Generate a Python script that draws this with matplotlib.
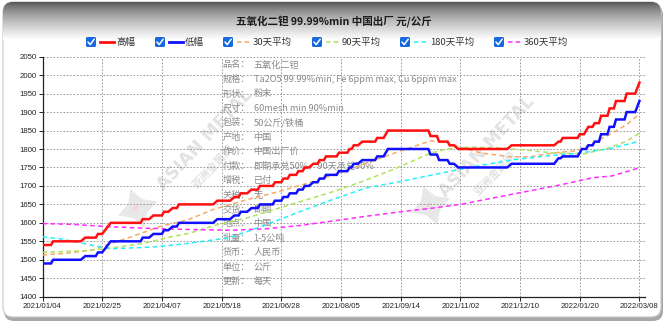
import numpy as np
import matplotlib.pyplot as plt
from matplotlib.patches import FancyBboxPatch

plt.rcParams['font.family'] = ['Noto Sans CJK SC', 'DejaVu Sans']

W, H = 667, 326

# ── data ──────────────────────────────────────────────────────
# x is a trading-day index, one tick label every 28 points
tick_labels = ['2021/01/04', '2021/02/25', '2021/04/07', '2021/05/18', '2021/06/28',
               '2021/08/05', '2021/09/14', '2021/11/02', '2021/12/10', '2022/01/20',
               '2022/03/08']
tick_step = 28

# 高幅 / 低幅 price levels: first index, last index, price
high_x0 = [0, 5, 20, 26, 32, 47, 52, 57, 61, 64, 82, 90, 93, 98, 102, 109, 113, 116, 120, 123,
           127, 130, 133, 139, 144, 146, 150, 157, 162, 182, 186, 191, 195, 220, 242, 244, 252,
           256, 259, 262, 266, 269, 274, 280]
high_x1 = [4, 18, 25, 28, 46, 50, 56, 59, 63, 80, 88, 92, 96, 101, 108, 112, 115, 119, 122, 125,
           129, 132, 138, 143, 145, 148, 156, 160, 181, 185, 190, 193, 218, 240, 243, 251, 254,
           258, 261, 265, 268, 273, 278, 280]
high_v = [1540, 1550, 1560, 1570, 1600, 1610, 1620, 1630, 1640, 1650, 1660, 1670, 1680, 1690,
          1700, 1710, 1720, 1730, 1740, 1750, 1760, 1770, 1780, 1790, 1800, 1810, 1820, 1830,
          1850, 1835, 1820, 1810, 1800, 1810, 1820, 1830, 1840, 1860, 1870, 1890, 1910, 1930,
          1950, 1980]

low_x0 = [0, 5, 20, 26, 32, 47, 52, 57, 61, 64, 82, 90, 93, 98, 102, 109, 113, 116, 120, 123,
          127, 130, 133, 139, 144, 146, 150, 157, 162, 182, 186, 191, 195, 220, 242, 244, 253,
          256, 259, 262, 266, 269, 274, 280]
low_x1 = [4, 18, 25, 28, 46, 50, 56, 59, 63, 80, 88, 92, 96, 101, 108, 112, 115, 119, 122, 125,
          129, 132, 138, 143, 145, 148, 156, 160, 181, 185, 190, 193, 218, 240, 243, 251, 255,
          258, 261, 265, 268, 273, 278, 280]
low_v = [1490, 1500, 1510, 1520, 1550, 1560, 1570, 1580, 1590, 1600, 1610, 1620, 1630, 1640,
         1650, 1660, 1670, 1680, 1690, 1700, 1710, 1720, 1730, 1740, 1750, 1760, 1770, 1780,
         1800, 1785, 1770, 1760, 1750, 1760, 1775, 1780, 1800, 1810, 1820, 1840, 1860, 1880,
         1900, 1930]

avg30_x = [0, 12, 24, 30, 42, 55, 68, 80, 96, 111, 127, 136, 152, 168, 182, 189, 196, 205,
           219, 229, 239, 251, 258, 266, 274, 280]
avg30_v = [1513, 1518, 1527, 1540, 1563, 1590, 1608, 1636, 1663, 1685, 1712, 1729, 1762, 1795,
           1822, 1820, 1805, 1790, 1779, 1779, 1789, 1796, 1816, 1839, 1866, 1895]

avg90_x = [0, 18, 30, 46, 61, 69, 80, 97, 111, 135, 150, 166, 182, 190, 200, 214, 227, 240,
           254, 266, 274, 280]
avg90_v = [1520, 1524, 1530, 1543, 1563, 1572, 1592, 1615, 1640, 1682, 1712, 1748, 1789, 1800,
           1805, 1803, 1797, 1789, 1787, 1803, 1821, 1843]

avg180_x = [0, 8, 16, 26, 33, 46, 55, 69, 88, 105, 121, 136, 152, 168, 183, 196, 205, 221,
            236, 252, 267, 280]
avg180_v = [1562, 1557, 1548, 1536, 1530, 1533, 1536, 1545, 1560, 1595, 1631, 1663, 1695, 1712,
            1730, 1745, 1755, 1771, 1781, 1789, 1802, 1821]

avg360_x = [0, 14, 30, 46, 69, 89, 105, 121, 136, 152, 168, 183, 196, 211, 227, 243, 258,
            267, 280]
avg360_v = [1598, 1596, 1590, 1586, 1582, 1580, 1584, 1593, 1605, 1618, 1630, 1640, 1650, 1667,
            1685, 1703, 1722, 1727, 1749]

info_keys = ['品名：', '规格：', '形状：', '尺寸：', '包装：', '产地：', '作价：', '付款：',
             '增税：', '关税：', '交货：', '地点：', '批量：', '货币：', '单位：', '更新：']
info_vals = ['五氧化二钽', 'Ta2O5 99.99%min, Fe 6ppm max, Cu 6ppm max', '粉末',
             '60mesh min 90%min', '50公斤/铁桶', '中国', '中国出厂价', '即期承兑50%，90天承兑50%',
             '已付', '无', '即期', '中国', '1-5公吨', '人民币', '公斤', '每天']

title = '五氧化二钽 99.99%min 中国出厂 元/公斤'

series = [
    ('高幅', '#ff1010', 'solid'),
    ('低幅', '#1010ff', 'solid'),
    ('30天平均', '#f6aa66', 'dash'),
    ('90天平均', '#aee35c', 'dash'),
    ('180天平均', '#28eefa', 'dash'),
    ('360天平均', '#ff2cff', 'dash'),
]
legend_x = [91, 160, 228, 317, 405, 499]


def steps(x0, x1, v):
    xs = np.column_stack([x0, x1]).ravel()
    ys = np.repeat(v, 2)
    return xs, ys


fig = plt.figure(figsize=(W / 100, H / 100), dpi=100)
fig.patch.set_facecolor('white')

# ── card background, pixel coordinates ───────────────────────
bg = fig.add_axes([0, 0, 1, 1], zorder=-10)
bg.set_xlim(0, W)
bg.set_ylim(H, 0)
bg.axis('off')

shadow = FancyBboxPatch((4, 5), 659, 316, boxstyle='round,pad=0,rounding_size=10',
                        facecolor='#a8a8a8', edgecolor='none')
bg.add_patch(shadow)
card = FancyBboxPatch((3, 2), 658, 315, boxstyle='round,pad=0,rounding_size=10',
                      facecolor='white', edgecolor='#c8c8c8', lw=0.8)
bg.add_patch(card)
grad = np.linspace(0, 1, 60) ** 0.7
grad = np.dstack([0.32 + 0.68 * grad] * 3).reshape(60, 1, 3)
im = bg.imshow(grad, extent=(3, 661, 40, 2), aspect='auto', interpolation='bilinear', zorder=1)
im.set_clip_path(card)

bg.text(W / 2, 22, title, ha='center', va='center', fontsize=7.6, fontweight='bold',
        color='#1a1a1a', zorder=3)

for (name, color, style), cx in zip(series, legend_x):
    box = FancyBboxPatch((cx - 5, 37), 10, 10, boxstyle='round,pad=0,rounding_size=1.5',
                         facecolor='#1769e0', edgecolor='none', zorder=3)
    bg.add_patch(box)
    bg.plot([cx - 3, cx - 0.8, cx + 3.2], [42, 44.6, 39.2], color='white', lw=1.1, zorder=4,
            solid_capstyle='round')
    if style == 'solid':
        bg.plot([cx + 9, cx + 23], [42, 42], color=color, lw=2, zorder=3)
    else:
        bg.plot([cx + 9, cx + 23], [42, 42], color=color, lw=1.1, dashes=(3, 2), zorder=3)
    bg.text(cx + 25, 42.5, name, ha='left', va='center', fontsize=6.8, color='#333333', zorder=3)

# watermarks
for tx, ty, sx, sy in [(205, 140, 137, 208), (487, 147, 430, 205)]:
    bg.text(tx, ty, 'ASIAN METAL', rotation=47, ha='center', va='center', fontsize=12.5,
            fontweight='bold', color='#e2e2e2', family='DejaVu Sans', zorder=2)
    bg.text(tx + 8, ty + 27, '亚洲金属网', rotation=47, ha='center', va='center', fontsize=8,
            fontweight='bold', color='#e2e2e2', zorder=2)
    bg.plot(sx, sy, marker=(4, 1, 20), ms=30, color='#e8e8e8', mec='none', zorder=2)
    bg.text(sx, sy, 'AM', rotation=47, ha='center', va='center', fontsize=4, color='#f4c8c8',
            family='DejaVu Sans', zorder=2)

# info block
for i, (k, v) in enumerate(zip(info_keys, info_vals)):
    py = 65 + i * 14.45
    bg.text(222.5, py, k, ha='left', va='center', fontsize=6.6, color='#8a8a8a', zorder=2)
    bg.text(253.5, py, v, ha='left', va='center', fontsize=6.6, color='#8a8a8a', zorder=2)

# ── chart ─────────────────────────────────────────────────────
x0, x1, y0, y1 = 42.5, 645, 56.7, 296.7
ax = fig.add_axes([x0 / W, 1 - y1 / H, (x1 - x0) / W, (y1 - y0) / H])
ax.patch.set_alpha(0)

averages = [(avg30_x, avg30_v), (avg90_x, avg90_v), (avg180_x, avg180_v), (avg360_x, avg360_v)]
for (xs, ys), (name, color, _) in zip(averages, series[2:]):
    ax.plot(xs, ys, color=color, lw=1.1, dashes=(3, 2.2), zorder=3)

hx, hy = steps(high_x0, high_x1, high_v)
lx, ly = steps(low_x0, low_x1, low_v)
ax.plot(hx, hy, color=series[0][1], lw=1.8, zorder=4, solid_joinstyle='miter')
ax.plot(lx, ly, color=series[1][1], lw=1.8, zorder=4, solid_joinstyle='miter')

ax.set_xlim(0, 282.6)
ax.set_ylim(1400, 2050)
ax.set_yticks(np.arange(1400, 2051, 50))
ax.set_xticks(np.arange(len(tick_labels)) * tick_step)
ax.set_xticklabels(tick_labels)
ax.grid(True, color='#8c8c8c', lw=0.6, linestyle=(0, (2, 2)))
ax.set_axisbelow(True)
for s in ['top', 'right']:
    ax.spines[s].set_visible(False)
for s in ['left', 'bottom']:
    ax.spines[s].set_color('#222222')
    ax.spines[s].set_linewidth(0.9)
ax.tick_params(axis='both', length=3, width=0.7, color='#222222', labelsize=5.6,
               labelcolor='#222222', pad=1.5)
for lab in ax.get_xticklabels() + ax.get_yticklabels():
    lab.set_fontfamily('Liberation Sans')

fig.savefig('out.png', dpi=100)
